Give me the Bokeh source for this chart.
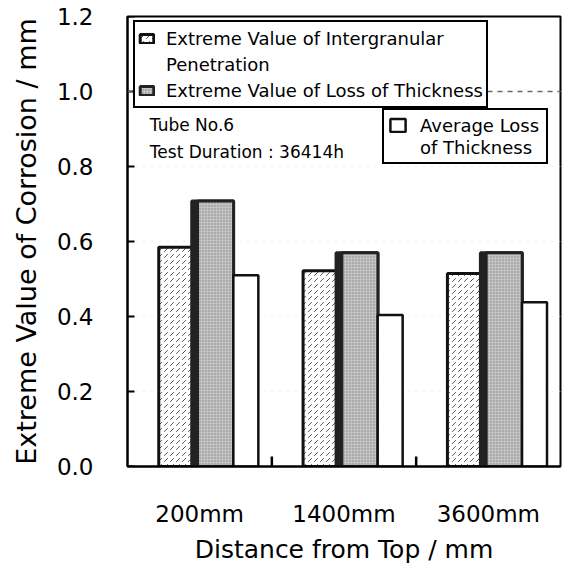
from bokeh.plotting import figure
from bokeh.models import (FixedTicker, Legend, LegendItem, Label, Span,
                          ColumnDataSource, PrintfTickFormatter, Range1d)
from bokeh.transform import dodge
from bokeh.embed import file_html
from bokeh.resources import INLINE

categories = ["200mm", "1400mm", "3600mm"]
intergranular = [0.585, 0.522, 0.515]
loss_extreme = [0.708, 0.570, 0.570]
loss_average = [0.510, 0.404, 0.438]
y_ticks = [0.0, 0.2, 0.4, 0.6, 0.8, 1.0, 1.2]
boundaries = [1, 2]

pos = [i + 0.5 for i in range(len(categories))]
src = ColumnDataSource(dict(x=pos, a=intergranular, b=loss_extreme, c=loss_average))

FONT = "DejaVu Sans"
FW, FH = 433, 450
X0, X1, Y0, Y1 = 0, 3, 0, 1.2

p = figure(frame_width=FW, frame_height=FH, x_range=Range1d(X0, X1), y_range=Range1d(Y0, Y1),
           output_backend="svg", toolbar_location=None,
           min_border_left=127, min_border_right=2, min_border_top=16, min_border_bottom=96)
p.background_fill_color = "white"
p.border_fill_color = "white"
p.outline_line_color = "black"
p.outline_line_width = 2

p.xgrid.grid_line_color = None
p.ygrid.ticker = FixedTicker(ticks=y_ticks)
p.ygrid.grid_line_color = "#efefef"
p.ygrid.grid_line_dash = "2 6"

span = Span(location=1.0, dimension="width", line_color="#666666", line_dash="5 5", line_width=1.3)
p.add_layout(span)

r1 = p.vbar(x=dodge("x", -0.15, range=p.x_range), top="a", bottom=0, width=0.267,
            fill_color="white", hatch_pattern=",", hatch_color="#444444",
            hatch_scale=6, hatch_weight=0.9, line_color="#111111", line_width=3, source=src)
p.vbar(x=dodge("x", 0.09, range=p.x_range), top="b", bottom=0, width=0.29,
       fill_color="#222222", line_color="#222222", line_width=3, source=src)
r2 = p.vbar(x=dodge("x", 0.11, range=p.x_range), top="b", bottom=0, width=0.25,
            fill_color="#c4c4c4", hatch_pattern=".", hatch_color="#808080",
            hatch_scale=3, hatch_weight=1, line_color="#222222", line_width=3, source=src)
r3 = p.vbar(x=dodge("x", 0.32, range=p.x_range), top="c", bottom=0, width=0.173,
            fill_color="white", line_color="#111111", line_width=2.5, source=src)

# inward tick marks drawn from the tick lists (lengths in pixels converted to data units)
ytick_len = 7 * (X1 - X0) / FW
xtick_len = 10 * (Y1 - Y0) / FH
p.segment(x0=[X0] * len(y_ticks), y0=y_ticks, x1=[X0 + ytick_len] * len(y_ticks), y1=y_ticks,
          line_color="black", line_width=2)
p.segment(x0=boundaries, y0=[Y0] * len(boundaries), x1=boundaries,
          y1=[Y0 + xtick_len] * len(boundaries), line_color="black", line_width=2.5)

# x axis
p.xaxis.ticker = FixedTicker(ticks=pos)
p.xaxis.major_label_overrides = {pos[i]: categories[i] for i in range(len(categories))}
p.xaxis.major_tick_in = 0
p.xaxis.major_tick_out = 0
p.xaxis.minor_tick_line_color = None
p.xaxis.major_label_standoff = 34
p.xaxis.axis_label = "Distance from Top / mm"
p.xaxis.axis_label_standoff = 5

# y axis
p.yaxis.ticker = FixedTicker(ticks=y_ticks)
p.yaxis.formatter = PrintfTickFormatter(format="%.1f")
p.yaxis.major_tick_in = 0
p.yaxis.major_tick_out = 0
p.yaxis.minor_tick_line_color = None
p.yaxis.major_label_standoff = 34
p.yaxis.axis_label = "Extreme Value of Corrosion / mm"
p.yaxis.axis_label_standoff = 12

for ax in (p.xaxis[0], p.yaxis[0]):
    ax.axis_line_width = 2
    ax.axis_line_color = "black"
    ax.major_label_text_font = FONT
    ax.major_label_text_font_size = "23px"
    ax.major_label_text_color = "black"
    ax.axis_label_text_font = FONT
    ax.axis_label_text_font_size = "25px"
    ax.axis_label_text_font_style = "normal"
    ax.axis_label_text_color = "black"
p.yaxis.axis_label_text_font_size = "27px"

common = dict(orientation="vertical", border_line_color="black", border_line_width=2,
              border_line_alpha=1.0,
              background_fill_color="white", background_fill_alpha=1,
              label_text_font=FONT, label_text_font_size="18px", label_text_color="black",
              spacing=0, margin=0)
leg1 = Legend(items=[LegendItem(label="Extreme Value of Intergranular", renderers=[r1]),
                     LegendItem(label="Penetration", renderers=[]),
                     LegendItem(label="Extreme Value of Loss of Thickness", renderers=[r2])],
              location=(6, 358), glyph_width=17, glyph_height=11, label_standoff=11,
              label_height=26, padding=3, **common)
leg2 = Legend(items=[LegendItem(label="Average Loss", renderers=[r3]),
                     LegendItem(label="of Thickness", renderers=[])],
              location=(255, 302), glyph_width=19, glyph_height=16, label_standoff=13,
              label_height=22, label_width=122, padding=4, **common)
p.add_layout(leg1)
p.add_layout(leg2)

p.add_layout(Label(x=0.155, y=0.911, text="Tube No.6", text_font=FONT,
                   text_font_size="17px", text_baseline="middle", text_color="black"))
p.add_layout(Label(x=0.155, y=0.840, text="Test Duration : 36414h", text_font=FONT,
                   text_font_size="17px", text_baseline="middle", text_color="black"))

open("out.html", "w").write(file_html(p, INLINE))
